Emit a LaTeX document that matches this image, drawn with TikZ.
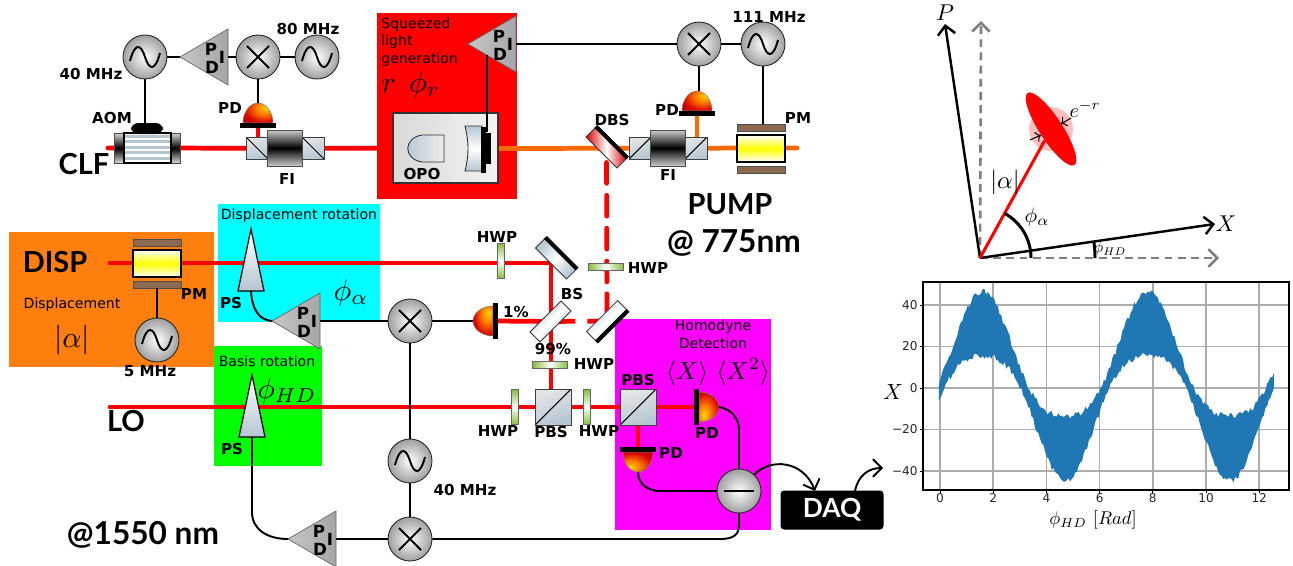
\documentclass[tikz,border=0pt]{standalone}
\usepackage{fontspec}
\setsansfont{DejaVu Sans}
\newfontfamily\headfont{Lato}
\usetikzlibrary{arrows.meta,shapes.geometric}
\definecolor{optic}{HTML}{B4C6D2}
\definecolor{plate}{HTML}{8C6A4F}
\definecolor{wave}{HTML}{86BC3C}
\definecolor{plotblue}{HTML}{1F77B4}
\definecolor{boxorange}{HTML}{FF7F0E}
\definecolor{boxcyan}{RGB}{0,255,255}
\definecolor{boxmagenta}{RGB}{255,0,255}
\definecolor{boxgreen}{RGB}{0,255,0}
\definecolor{pumporange}{HTML}{FF6A00}
\pgfdeclarelayer{panel}
\pgfdeclarelayer{beam}
\pgfsetlayers{panel,beam,main}
\pgfdeclareradialshading{pdglow}{\pgfpoint{14bp}{14bp}}{color(0bp)=(yellow!70!orange); color(14bp)=(orange); color(32bp)=(red!85!black); color(55bp)=(red!55!black); color(80bp)=(red!40!black)}
\tikzset{
  tag/.style={font=\sffamily\bfseries\fontsize{8.6}{10}\selectfont,inner sep=0pt},
  bigtag/.style={font=\headfont\bfseries\fontsize{16.5}{20}\selectfont,inner sep=0pt},
  widetag/.style={font=\headfont\bfseries\fontsize{18}{20}\selectfont,inner sep=0pt},
  boxtext/.style={font=\sffamily\fontsize{8}{10.2}\selectfont,inner sep=0pt},
  ticktext/.style={font=\sffamily\fontsize{6.9}{8}\selectfont,inner sep=0pt,text=black!85},
  mathtag/.style={inner sep=0pt,scale=#1},
  wire/.style={draw=black,line width=1.1pt},
  laser/.style={draw=red,line width=2.7pt},
  pumpbeam/.style={draw=pumporange,line width=2.7pt},
  rfnode/.style={circle,draw=black!85,line width=0.5pt,shading=radial,inner color=white,outer color=gray!75,minimum size=0.88cm,inner sep=0pt},
  rfosc/.style={rfnode,path picture={\begin{scope}[shift={(path picture bounding box.center)}]
    \draw[wire] (-15,4) .. controls (-10,-15) and (-4,-13) .. (0,0) .. controls (4,13) and (10,15) .. (15,-4);
    \end{scope}}},
  rfmix/.style={rfnode,path picture={\begin{scope}[shift={(path picture bounding box.center)}]
    \draw[wire] (-11,-11) -- (11,11);
    \draw[wire] (-11,11) -- (11,-11);
    \end{scope}}},
  rfdiff/.style={rfnode,path picture={\begin{scope}[shift={(path picture bounding box.center)}]
    \draw[wire,line width=1.4pt] (-15,0) -- (15,0);
    \end{scope}}},
  cube/.style={rectangle,draw=black!75,line width=0.5pt,shading=axis,left color=gray!20,right color=optic,shading angle=20,inner sep=0pt},
  cubefwd/.style={cube,path picture={\draw[black,line width=0.6pt] (path picture bounding box.south west) -- (path picture bounding box.north east);}},
  cubeback/.style={cube,path picture={\draw[black,line width=0.6pt] (path picture bounding box.north west) -- (path picture bounding box.south east);}},
  barrel/.style={rectangle,draw=black!70,line width=0.5pt,top color=gray!40,bottom color=gray!40,middle color=black,inner sep=0pt,minimum width=0.70cm,minimum height=0.72cm},
  glass/.style={rectangle,draw=black!80,line width=0.5pt,shading=axis,left color=optic,right color=optic,middle color=white,shading angle=45,inner sep=0pt,minimum width=0.88cm,minimum height=0.28cm},
  hwpv/.style={rectangle,draw=black!60,line width=0.4pt,top color=wave,bottom color=wave,middle color=white,inner sep=0pt,minimum width=0.14cm,minimum height=0.70cm},
  hwph/.style={rectangle,draw=black!60,line width=0.4pt,left color=wave,right color=wave,middle color=white,inner sep=0pt,minimum width=0.70cm,minimum height=0.14cm},
  mirroredge/.style={draw=black,line width=2.3pt},
  panelgray/.style={draw=black!80,line width=0.6pt,left color=gray!30,right color=gray!10},
  servo/.pic={
    \draw[draw=black!60,line width=0.4pt,shading=axis,left color=gray!45,middle color=gray!5,right color=gray!70] (0,-28) -- (0,28) -- (-48,0) -- cycle;
    \coordinate (-apex) at (-48,0);
    \coordinate (-base) at (0,0);
    \coordinate (-foot) at (-29,11);
    \node[tag,font=\sffamily\bfseries\fontsize{9.5}{10}\selectfont] (-p) at (-17,-8) {P};
    \node[tag,font=\sffamily\bfseries\fontsize{9.5}{10}\selectfont] (-d) at (-16,10) {D};
    \node[tag,font=\sffamily\bfseries\fontsize{9.5}{10}\selectfont] (-i) at (-6,0) {I};
  },
  shifter/.pic={
    \draw[draw=black,line width=0.7pt,shading=axis,top color=white,bottom color=optic] (0,-31) -- (13,31) -- (-13,31) -- cycle;
    \coordinate (-foot) at (0,31);
  },
  diode/.pic={
    \shade[shading=pdglow,draw=black!50,line width=0.3pt] (-15,0) .. controls (-15,-11) and (-8,-20) .. (0,-20) .. controls (8,-20) and (15,-11) .. (15,0) -- cycle;
    \fill[black] (-18,0) rectangle (18,5);
    \coordinate (-lead) at (0,-20);
    \coordinate (-front) at (0,4);
  },
  pics/isolator/.style={code={
    \node[#1,minimum size=0.44cm] (-l) at (-28,0) {};
    \node[#1,minimum size=0.44cm] (-r) at (28,0) {};
    \node[barrel] (-b) at (0,0) {};
  }},
  modulator/.pic={
    \draw[fill=plate,draw=black!70,line width=0.4pt] (-24,-24) rectangle (24,-17);
    \draw[fill=plate,draw=black!70,line width=0.4pt] (-24,18) rectangle (24,25);
    \draw[draw=black,line width=0.6pt,top color=white,bottom color=white,middle color=yellow] (-24,-13) rectangle (24,14);
    \coordinate (-up) at (0,-24);
    \coordinate (-down) at (0,25);
  },
  aomcell/.pic={
    \draw[draw=black!70,line width=0.5pt,top color=gray!30,bottom color=gray!30,middle color=black] (-33,-15) rectangle (-23,15);
    \draw[draw=black!70,line width=0.5pt,top color=gray!30,bottom color=gray!30,middle color=black] (24,-15) rectangle (33,15);
    \fill[white] (-23,-15) rectangle (24,15);
    \foreach \row in {-13,-8,-2,3,9}
      \fill[optic] (-23,\row) rectangle (24,\row+2.5);
    \draw[black,line width=0.8pt] (-23,-15) rectangle (24,15);
    \fill[black,rounded corners=4pt] (-16,-14) -- (-16,-25) -- (16,-25) -- (16,-14) -- cycle;
    \coordinate (-rf) at (-3,-25);
    \coordinate (-back) at (-33,0);
  },
}
\begin{document}
\begin{tikzpicture}[x=0.02cm,y=-0.02cm,
    declare function={swing(\t)=30*cos(deg((\t-1.6)*1.013))+1;
      spread(\t)=4+11*cos(deg((\t-1.6)*1.013))*cos(deg((\t-1.6)*1.013));},
  ]
  \useasboundingbox (0,0) rectangle (1293,565);

  \begin{pgfonlayer}{panel}
    \fill[red] (377,13) rectangle (517,199);
    \fill[boxcyan] (218,204) rectangle (380,322);
    \fill[boxorange] (9,232) rectangle (214,367);
    \fill[boxgreen] (214,346) rectangle (322,466);
    \fill[boxmagenta] (615,319) rectangle (771,530);
  \end{pgfonlayer}

  \node[rfosc] (oscfourty) at (145,57) {};
  \pic (servoa) at (228,57) {servo};
  \node[rfmix] (mixa) at (258,57) {};
  \node[rfosc] (osceighty) at (317,57) {};
  \pic (aom) at (147,148) {aomcell};
  \pic (fia) at (285,148) {isolator=cubeback};
  \pic (pda) at (258,123) {diode};

  \draw[panelgray] (393,113) rectangle (498,183);
  \draw[draw=black!80,line width=0.5pt,left color=optic,right color=gray!15] (444,135) -- (422,135) .. controls (403,138) and (403,159) .. (422,162) -- (444,162) -- cycle;
  \draw[draw=black!80,line width=0.5pt,top color=optic,bottom color=optic,middle color=white] (465,126) -- (482,126) -- (482,171) -- (465,171) .. controls (469,155) and (469,142) .. (465,126) -- cycle;
  \fill[black] (481,127) rectangle (486,173);
  \node[rectangle,fill=black,inner sep=0pt,minimum width=0.20cm,minimum height=0.62cm] (opoblock) at (486,148.5) {};
  \pic (servob) at (516,44) {servo};
  \node[rfmix] (mixb) at (699,44) {};
  \node[rfosc] (oscpump) at (763,44) {};
  \node[glass,rotate=-45,left color=red!85!black,right color=red!85!black,middle color=white] (dbs) at (606.5,147.5) {};
  \draw[mirroredge] (dbs.north west) -- (dbs.north east);
  \pic (fib) at (668,148) {isolator=cubefwd};
  \pic (pdb) at (697,111) {diode};
  \pic (pmb) at (761,148) {modulator};

  \pic (pma) at (157,263) {modulator};
  \node[rfosc] (oscfive) at (157,340) {};
  \pic (psa) at (251,260) {shifter};
  \pic (servoc) at (320,321) {servo};
  \node[rfmix] (mixc) at (410,321) {};
  \pic[rotate=90] (pdc) at (493,321) {diode};
  \node[hwpv] (hwpa) at (501,261) {};
  \node[glass,rotate=-45] (mirrora) at (556,258.5) {};
  \draw[mirroredge] (mirrora.north west) -- (mirrora.north east);
  \node[hwph] (hwpb) at (606,267) {};
  \node[glass,rotate=45] (bsa) at (550.5,321.5) {};
  \node[glass,rotate=45] (mirrorb) at (607,321) {};
  \draw[mirroredge] (mirrorb.south west) -- (mirrorb.south east);
  \node[hwph] (hwpc) at (550,365) {};

  \pic (psb) at (252,406) {shifter};
  \node[hwpv] (hwpd) at (515,407) {};
  \node[cubefwd,minimum size=0.72cm] (pbsa) at (553,407) {};
  \node[hwpv] (hwpe) at (587,407) {};
  \node[cubefwd,minimum size=0.72cm] (pbsb) at (638,407) {};
  \pic[rotate=-90,shading angle=180] (pdd) at (699,407) {diode};
  \pic[rotate=180,shading angle=180] (pde) at (638,452) {diode};
  \node[rfdiff] (diffa) at (739,491) {};
  \node[rfosc] (osclo) at (410,461) {};
  \node[rfmix] (mixd) at (410,539) {};
  \pic (servod) at (336,539) {servo};
  \node[rectangle,fill=black,rounded corners=2pt,minimum width=2.06cm,minimum height=0.78cm,inner sep=0pt,text=white,font=\headfont\bfseries\fontsize{15}{18}\selectfont] (daq) at (832,510) {DAQ};

  \coordinate (clfstart) at (108,148);
  \coordinate (pumpend) at (797,148);
  \coordinate (dispstart) at (110,263);
  \coordinate (turna) at (551,263);
  \coordinate (lostart) at (110,407);
  \coordinate (opotap) at (487,132);
  \coordinate (daqin) at (815,491);
  \coordinate (daqtop) at (855,491);
  \coordinate (daqout) at (883,468);

  \begin{pgfonlayer}{beam}
    \draw[laser,line cap=round] (clfstart) -- (opoblock.center);
    \draw[pumpbeam,line cap=round] (opoblock.center) -- (pumpend);
    \draw[laser] (pda-front) -- (pda-front |- fia-b);
    \draw[pumpbeam] (pdb-front) -- (pdb-front |- fib-b);
    \draw[laser,dash pattern=on 11.9pt off 6.8pt,dash phase=10.2pt,line cap=round] (dbs.center) -- (mirrorb.center);
    \draw[laser,line cap=round] (dispstart) -- (turna) -- (turna |- pbsa);
    \draw[laser] (pdc-front) -- (bsa.center);
    \draw[laser,dash pattern=on 14.2pt off 6.8pt] (bsa.center) -- (mirrorb.center);
    \draw[laser,line cap=round] (lostart) -- (pdd-front);
    \draw[laser] (pbsb) -- (pde-front);
  \end{pgfonlayer}

  \draw[wire] (oscfourty) -- (oscfourty |- aom-rf);
  \draw[wire] (oscfourty) -- (servoa-apex);
  \draw[wire] (servoa-base) -- (mixa);
  \draw[wire] (mixa) -- (osceighty);
  \draw[wire] (mixa) -- (pda-lead);
  \draw[wire,line width=1.4pt] (servob-foot) -- (opotap);
  \draw[wire] (servob-base) -- (mixb);
  \draw[wire] (mixb) -- (oscpump);
  \draw[wire] (mixb) -- (mixb |- pdb-lead);
  \draw[wire] (oscpump) -- (oscpump |- pmb-up);
  \draw[wire] (pma-down) -- (oscfive);
  \draw[wire] (psa-foot) .. controls (252,308) and (258,320) .. (servoc-apex);
  \draw[wire] (servoc-base) -- (mixc);
  \draw[wire] (mixc) -- (pdc-lead);
  \draw[wire] (mixc) -- (osclo);
  \draw[wire] (osclo) -- (mixd);
  \draw[wire] (psb-foot) -- (252,512) .. controls (252,530) and (268,539) .. (servod-apex);
  \draw[wire] (servod-base) -- (mixd);
  \draw[wire] (mixd) -- (720,539) .. controls (733,539) and (739,535) .. (739,525) -- (diffa);
  \draw[wire] (pdd-lead) .. controls (731,409) and (739,418) .. (739,430) -- (diffa);
  \draw[wire] (pde-lead) .. controls (638,484) and (648,491) .. (660,491) -- (diffa);
  \draw[wire,-{Straight Barb[length=5pt,width=10pt]}] (diffa) .. controls (770,458) and (803,460) .. (daqin);
  \draw[wire,-{Straight Barb[length=5pt,width=10pt]}] (daqtop) .. controls (858,476) and (868,468) .. (daqout);

  \node[tag] (lbloscfourty) at (91,74) {40 MHz};
  \node[tag] (lblosceighty) at (308,29) {80 MHz};
  \node[tag] (lblaom) at (112,118) {AOM};
  \node[tag] (lblpda) at (230,108) {PD};
  \node[tag] (lblfia) at (287,179) {FI};
  \node[bigtag] (lblclf) at (84,164) {CLF};
  \node[boxtext,align=left,anchor=north west] (lblsqueezed) at (381,17) {Squeezed\\light\\generation};
  \node[mathtag=1.7,anchor=west] (lblr) at (381,85) {$r$\;\,$\phi_r$};
  \node[tag] (lblopo) at (422,174) {OPO};
  \node[tag] (lbldbs) at (612,120) {DBS};
  \node[tag] (lblpdb) at (667,110) {PD};
  \node[tag] (lblfib) at (668,175) {FI};
  \node[tag] (lbloscpump) at (769,17) {111 MHz};
  \node[tag] (lblpmb) at (798,118) {PM};
  \node[bigtag] (lblpump) at (730,204) {PUMP};
  \node[widetag] (lblwave) at (734,243) {@ 775nm};

  \node[bigtag] (lbldisp) at (55,262) {DISP};
  \node[tag] (lblpma) at (194,294) {PM};
  \node[boxtext] (lbldisplacement) at (72,305) {Displacement};
  \node[mathtag=1.7] (lblalpha) at (72,340) {$|\alpha|$};
  \node[tag] (lbloscfive) at (150,371) {5 MHz};
  \node[boxtext] (lblrotation) at (299,216) {Displacement rotation};
  \node[tag] (lblpsa) at (231,303) {PS};
  \node[mathtag=1.7] (lblphialpha) at (351,293) {$\phi_\alpha$};
  \node[boxtext] (lblbasis) at (267,361) {Basis rotation};
  \node[mathtag=1.65] (lblphihd) at (287,391) {$\phi_{HD}$};
  \node[tag] (lblpsb) at (232,449) {PS};
  \node[bigtag] (lbllo) at (126,421) {LO};
  \node[widetag] (lblnm) at (143,535) {@1550 nm};

  \node[tag] (lblhwpa) at (497,237) {HWP};
  \node[tag] (lblhwpb) at (648,268) {HWP};
  \node[tag] (lblbs) at (572,294) {BS};
  \node[tag] (lblone) at (516,312) {1\%};
  \node[tag] (lblnine) at (553,349) {99\%};
  \node[tag] (lblhwpc) at (594,364) {HWP};
  \node[tag] (lblhwpd) at (498,431) {HWP};
  \node[tag] (lblpbsa) at (551,432) {PBS};
  \node[tag] (lblhwpe) at (599,431) {HWP};
  \node[tag] (lblpbsb) at (638,380) {PBS};
  \node[tag] (lblpdd) at (707,433) {PD};
  \node[tag] (lblpde) at (671,453) {PD};
  \node[tag] (lblosclo) at (465,490) {40 MHz};
  \node[boxtext,align=center] (lblhomodyne) at (713,334.5) {Homodyne\\Detection};
  \node[mathtag=1.42] (lblmoments) at (718,372) {$\langle X\rangle\ \langle X^2\rangle$};

  \coordinate (org) at (980,258);
  \coordinate (ptip) at (945,24);
  \coordinate (xtip) at (1215,224);
  \coordinate (pgray) at (981,21);
  \coordinate (xgray) at (1219,258);
  \draw[gray,line width=1.5pt,dash pattern=on 4.5pt off 3pt,-{Straight Barb[length=5pt,width=10pt]}] (org) -- (pgray);
  \draw[gray,line width=1.5pt,dash pattern=on 4.5pt off 3pt,-{Straight Barb[length=5pt,width=10pt]}] (org) -- (xgray);
  \draw[black,line width=1.4pt,-{Straight Barb[length=5pt,width=10pt]}] (org) -- (ptip);
  \draw[black,line width=1.4pt,-{Straight Barb[length=5pt,width=10pt]}] (org) -- (xtip);
  \fill[red!25] (1051,129) circle (22);
  \node[ellipse,fill=red,rotate=-57,minimum width=1.72cm,minimum height=0.46cm,inner sep=0pt] (squeeze) at (1051,129) {};
  \draw[red,line width=1.7pt] (org) -- (squeeze);
  \draw[black,line width=1.7pt] (1031,258) arc[start angle=0,end angle=-61,radius=51];
  \draw[black,line width=1.7pt] (1095,258) arc[start angle=0,end angle=-8,radius=115];
  \draw[black,line width=0.6pt,->] (1030,140) -- (1041,135);
  \draw[black,line width=0.6pt,->] (1071,118) -- (1061,124);
  \node[mathtag=1.3] (lblp) at (945,13) {$P$};
  \node[mathtag=1.3] (lblx) at (1226,224) {$X$};
  \node[mathtag=1.15] (lblsqz) at (1085,109) {$e^{-r}$};
  \node[mathtag=1.4] (lblamp) at (1005,182) {$|\alpha|$};
  \node[mathtag=1.2] (lblangle) at (1037,217) {$\phi_\alpha$};
  \node[mathtag=0.9] (lblhd) at (1110,249) {$\phi_{HD}$};

  \foreach \tick in {0,2,...,12} {
    \draw[gray!65,line width=0.85pt] ({940+26.6*\tick},282) -- ({940+26.6*\tick},490);
    \draw[black,line width=0.4pt] ({940+26.6*\tick},490) -- ({940+26.6*\tick},493);
    \node[ticktext] (xtick\tick) at ({940+26.6*\tick},498) {\tick};
  }
  \foreach \tick/\ticktxt in {-40/−40,-20/−20,0/0,20/20,40/40} {
    \draw[gray!65,line width=0.85pt] (923,{388-2.075*\tick}) -- (1289,{388-2.075*\tick});
    \draw[black,line width=0.4pt] (920,{388-2.075*\tick}) -- (923,{388-2.075*\tick});
    \node[ticktext,anchor=east] (ytick\tick) at (918,{388-2.075*\tick}) {\ticktxt};
  }
  \pgfmathsetseed{7}
  \fill[plotblue] plot[domain=-0.04:12.55,samples=200] ({940+26.6*\x},{388-2.075*(swing(\x)+spread(\x)-1+3*rnd)})
    -- plot[domain=12.55:-0.04,samples=200] ({940+26.6*\x},{388-2.075*(swing(\x)-spread(\x)+1-3*rnd)}) -- cycle;
  \draw[black,line width=0.95pt] (923,282) rectangle (1289,490);
  \node[mathtag=1.25] (lblyaxis) at (893,392) {$X$};
  \node[mathtag=1.05] (lblxaxis) at (1093,520) {$\phi_{HD}\ [Rad]$};
\end{tikzpicture}
\end{document}
